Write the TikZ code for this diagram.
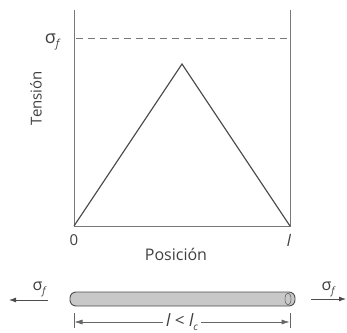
\documentclass[tikz,border=0pt]{standalone}
\usepackage{fontspec}
\setmainfont{Open Sans}
\usetikzlibrary{arrows.meta}
\definecolor{axisgray}{RGB}{120,120,120}
\definecolor{rodfill}{RGB}{200,200,200}
\newcommand{\sgf}[1]{σ\raisebox{-0.25em}{\fontsize{#1}{#1}\selectfont\itshape f}}
\begin{document}
\begin{tikzpicture}[x=1pt,y=-1pt,
  axis/.style={draw=axisgray,line width=1pt},
  curve/.style={draw=black!70,line width=1.2pt},
  lbl/.style={inner sep=0pt,text=black!75},
  dimline/.style={draw=black!60,line width=0.6pt},
  force/.style={draw=black!70,line width=0.8pt,-{Latex[length=7pt,width=5pt]}}]
\useasboundingbox (0,0) rectangle (347,332);
% axes
\coordinate (tl) at (74,10);
\coordinate (o) at (74,226);
\coordinate (r) at (290,226);
\coordinate (tr) at (290,10);
\coordinate (peak) at (182,64);
\coordinate (dl) at (76,38);
\coordinate (dr) at (290,38);
\draw[axis] (tl) -- (o) -- (r) -- (tr);
\draw[axis,dashed,dash pattern=on 7pt off 5pt] (dl) -- (dr);
\draw[curve] (o) -- (peak) -- (r);
% labels
\node[lbl,font=\fontsize{18}{18}\selectfont] (sf) at (52,42) {\sgf{11}};
\node[lbl,rotate=90,font=\fontsize{15}{15}\selectfont] (ten) at (36,98) {Tensión};
\node[lbl,font=\fontsize{15}{15}\selectfont] (zero) at (74,240) {0};
\node[lbl,font=\fontsize{16}{16}\selectfont\itshape] (ell) at (289,240) {l};
\node[lbl,font=\fontsize{16}{16}\selectfont] (pos) at (176,254) {Posición};
% rod
\node[draw=black!70,fill=rodfill,line width=0.9pt,rounded corners=6pt,minimum width=225pt,minimum height=14pt,inner sep=0pt] (rod) at (182.5,299) {};
\draw[black!60,line width=0.6pt] (288,299) ellipse (3pt and 6pt);
% forces
\coordinate (la) at (48,300);
\coordinate (lb) at (9,300);
\coordinate (ra) at (311,299);
\coordinate (rb) at (346,299);
\draw[force] (la) -- (lb);
\draw[force] (ra) -- (rb);
\node[lbl,font=\fontsize{16}{16}\selectfont] (sfl) at (39,289) {\sgf{10}};
\node[lbl,font=\fontsize{16}{16}\selectfont] (sfr) at (328,289) {\sgf{10}};
% dimension
\coordinate (d1t) at (74,313);
\coordinate (d1b) at (74,328);
\coordinate (d2t) at (290,313);
\coordinate (d2b) at (290,328);
\draw[dimline] (d1t) -- (d1b);
\draw[dimline] (d2t) -- (d2b);
\node[lbl,fill=white,inner xsep=3pt,font=\fontsize{17}{17}\selectfont\itshape] (dimtxt) at (182,322) {l \upshape<\itshape\ l\raisebox{-0.25em}{\fontsize{10}{10}\selectfont c}};
\draw[dimline,-{Latex[length=8pt,width=5pt]}] (dimtxt.west) -- (74.5,322);
\draw[dimline,-{Latex[length=8pt,width=5pt]}] (dimtxt.east) -- (289.5,322);
\end{tikzpicture}
\end{document}
